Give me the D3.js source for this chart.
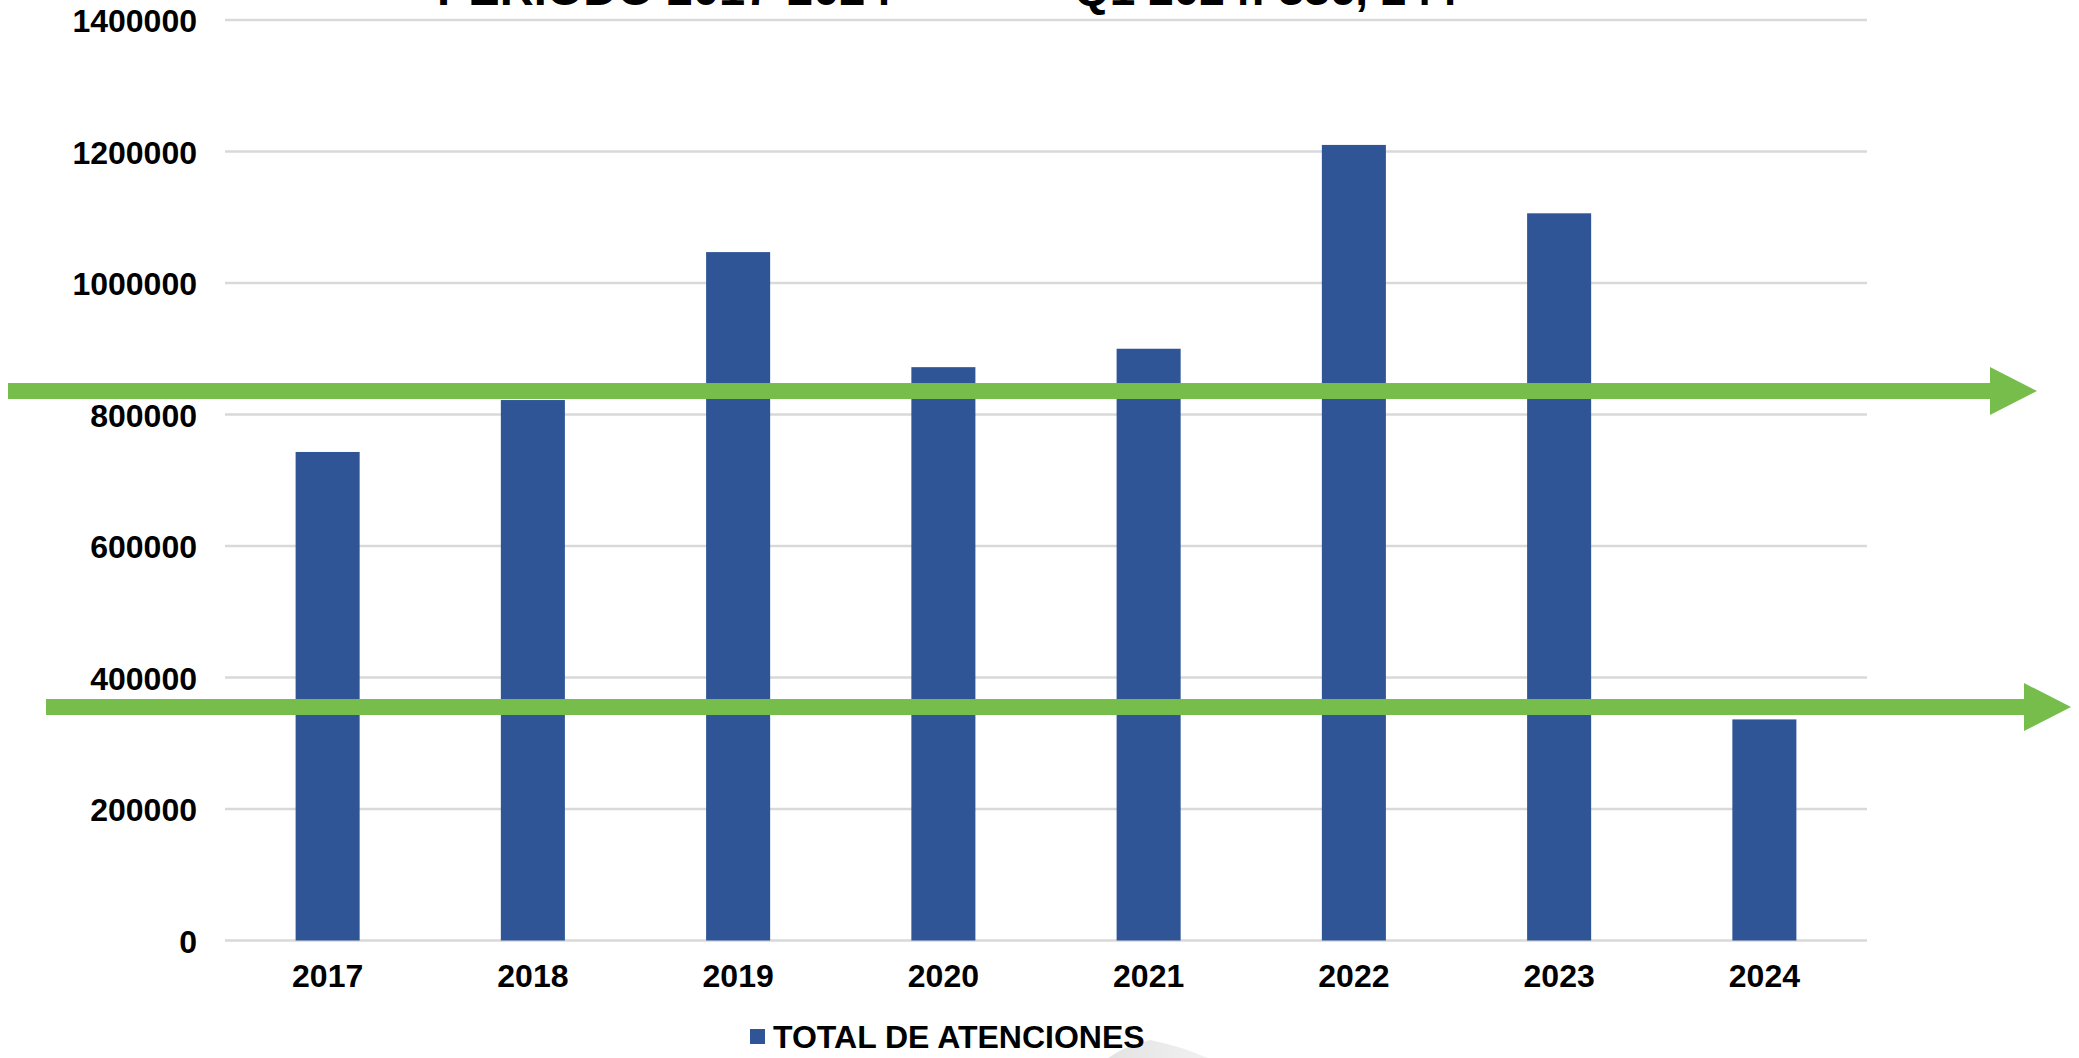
<!DOCTYPE html>
<html>
<head>
<meta charset="utf-8">
<script src="https://cdn.jsdelivr.net/npm/d3@7"></script>
<style>
  html, body { margin: 0; padding: 0; background: #ffffff; }
  svg { display: block; }
  text { font-family: "Liberation Sans", Arial, sans-serif; font-weight: bold; fill: #000; }
</style>
</head>
<body>
<svg id="chart" width="2079" height="1058"></svg>
<script>
// ---- data ----
const years = ["2017", "2018", "2019", "2020", "2021", "2022", "2023", "2024"];
const totalAtenciones = [743000, 822000, 1047000, 872000, 900000, 1210000, 1106000, 336244];
const yTicks = [0, 200000, 400000, 600000, 800000, 1000000, 1200000, 1400000];
const seriesName = "TOTAL DE ATENCIONES";
const titleParts = ["PERIODO 2017-2024", "Q1 2024: 336, 244"];
const arrowLevels = [835700, 355100];

// ---- layout ----
const svg = d3.select("#chart");

const x = d3.scaleBand().domain(years).range([225, 1867]).paddingInner(0.688).paddingOuter(0.344);
const y = d3.scaleLinear().domain([0, 1400000]).range([940.5, 20]);

// background swoosh (decorative, light gray)
const defs = svg.append("defs");
const grad = defs.append("linearGradient").attr("id", "swoosh").attr("x1", "0").attr("x2", "1").attr("y1", "0").attr("y2", "0");
grad.append("stop").attr("offset", "0").attr("stop-color", "#e3e3e3");
grad.append("stop").attr("offset", "1").attr("stop-color", "#f1f1f1");
svg.append("path")
  .attr("d", "M 1108 1058 Q 1125 1046 1150 1040 Q 1180 1046 1208 1058 Z")
  .attr("fill", "url(#swoosh)");

// title (clipped at top in the original)
svg.append("text").attr("x", 437).attr("y", 5).attr("font-size", 47).text(titleParts[0]);
svg.append("text").attr("x", 1074).attr("y", 5).attr("font-size", 46).text(titleParts[1]);

// gridlines
svg.append("g").selectAll("line").data(yTicks).join("line")
  .attr("x1", 225).attr("x2", 1867)
  .attr("y1", d => y(d)).attr("y2", d => y(d))
  .attr("stroke", "#d9d9d9").attr("stroke-width", 2.5);

// y axis labels
const yAxis = d3.axisLeft(y).tickValues(yTicks).tickSize(0).tickPadding(0).tickFormat(d3.format("d"));
const gy = svg.append("g").attr("transform", "translate(197,0)").call(yAxis);
gy.select(".domain").remove();
gy.selectAll("text").attr("font-size", 32).attr("font-family", "'Liberation Sans', Arial, sans-serif")
  .attr("font-weight", "bold").attr("fill", "#000").attr("dy", "0.36em");

// bars
svg.append("g").selectAll("rect").data(years).join("rect")
  .attr("x", d => x(d))
  .attr("width", x.bandwidth())
  .attr("y", (d, i) => y(totalAtenciones[i]))
  .attr("height", (d, i) => y(0) - y(totalAtenciones[i]))
  .attr("fill", "#2f5597");

// x axis labels
const xAxis = d3.axisBottom(x).tickSize(0).tickPadding(0);
const gx = svg.append("g").attr("transform", "translate(0,955)").call(xAxis);
gx.select(".domain").remove();
gx.selectAll("text").attr("font-size", 32).attr("font-family", "'Liberation Sans', Arial, sans-serif")
  .attr("font-weight", "bold").attr("fill", "#000").attr("dy", "1em");

// green arrows
const arrows = [
  { v: arrowLevels[0], x0: 8, xb: 1990, tip: 2037 },
  { v: arrowLevels[1], x0: 46, xb: 2024, tip: 2071 }
];
const ga = svg.append("g");
arrows.forEach(a => {
  const cy = y(a.v);
  ga.append("rect").attr("x", a.x0).attr("y", cy - 8).attr("width", a.xb - a.x0 + 1).attr("height", 16).attr("fill", "#77bd4c");
  ga.append("path").attr("d", `M ${a.xb} ${cy - 24} L ${a.tip} ${cy} L ${a.xb} ${cy + 24} Z`).attr("fill", "#77bd4c");
});

// legend
svg.append("rect").attr("x", 750).attr("y", 1029).attr("width", 15).attr("height", 15).attr("fill", "#2f5597");
svg.append("text").attr("x", 773).attr("y", 1048).attr("font-size", 32).text(seriesName);
</script>
</body>
</html>
